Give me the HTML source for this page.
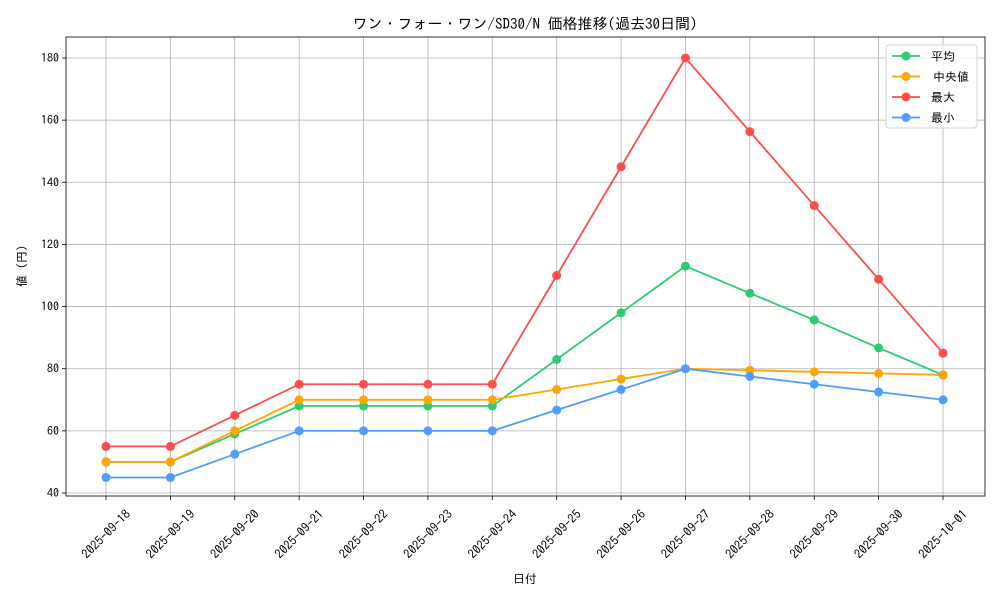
<!DOCTYPE html>
<html><head><meta charset="utf-8"><style>
body{margin:0;background:#fff;}
svg text{font-family:"IPAGothic","Liberation Sans","Noto Sans CJK JP",sans-serif;fill:#000;}
</style></head><body>
<svg id="c" width="1000" height="600" xmlns="http://www.w3.org/2000/svg"></svg>
<script>
const categories=["2025-09-18","2025-09-19","2025-09-20","2025-09-21","2025-09-22","2025-09-23","2025-09-24","2025-09-25","2025-09-26","2025-09-27","2025-09-28","2025-09-29","2025-09-30","2025-10-01"];
const avgValues=[50,50,59,68,68,68,68,83,98,113,104.3,95.7,86.7,78];
const medianValues=[50,50,60,70,70,70,70,73.3,76.7,80,79.5,79,78.5,78];
const maxValues=[55,55,65,75,75,75,75,110,145,180,156.3,132.5,108.8,85];
const minValues=[45,45,52.5,60,60,60,60,66.7,73.3,80,77.5,75,72.5,70];
const yTicks=[40,60,80,100,120,140,160,180];
const seriesNames=["平均","中央値","最大","最小"];
const seriesColors=["#2ecc71","#ffa500","#ff4d4d","#4d9eff"];

const svg=document.getElementById('c');
const NS="http://www.w3.org/2000/svg";
function mk(t,a,p){const e=document.createElementNS(NS,t);for(const k in a)e.setAttribute(k,a[k]);(p||svg).appendChild(e);return e;}
const L=66,R=985,T=37,B=496;
const x0=106,x1=943;
function xs(i){return x0+(x1-x0)*i/(categories.length-1);}
function ys(v){return 493-(v-40)*(493-58)/140;}

const grid=mk('g',{});


categories.forEach((c,i)=>{
  mk('line',{x1:xs(i),x2:xs(i),y1:T,y2:B,stroke:'#b0b0b0','stroke-width':0.8},grid);
  mk('line',{x1:xs(i),x2:xs(i),y1:B,y2:B+4,stroke:'#000','stroke-width':0.8});
  const t=mk('text',{x:0,y:0,'font-size':12.5,'text-anchor':'middle',dy:'0.35em',transform:`translate(${xs(i)},534) rotate(-45)`});
  t.textContent=c;
  
  
});
yTicks.forEach(v=>{
  mk('line',{x1:L,x2:R,y1:ys(v),y2:ys(v),stroke:'#b0b0b0','stroke-width':0.8},grid);
  mk('line',{x1:L-4,x2:L,y1:ys(v),y2:ys(v),stroke:'#000','stroke-width':0.8});
  const t=mk('text',{x:L-7,y:ys(v)+4,'font-size':12,'text-anchor':'end'});
  t.textContent=v;
  
  
});
const frame=mk('rect',{x:L,y:T,width:R-L,height:B-T,fill:'none',stroke:'#000','stroke-width':0.8});



const all=[avgValues,medianValues,maxValues,minValues];
all.forEach((vals,s)=>{
  const g=mk('g',{});
  
  
  mk('polyline',{points:vals.map((v,i)=>xs(i)+','+ys(v)).join(' '),fill:'none',stroke:seriesColors[s],'stroke-width':1.8},g);
  vals.forEach((v,i)=>{
    const c=mk('circle',{cx:xs(i),cy:ys(v),r:4.5,fill:seriesColors[s]},g);
    
    
  });
});

const title=mk('text',{x:525,y:29,'font-size':15,'text-anchor':'middle'});
title.textContent="ワン・フォー・ワン/SD30/N 価格推移(過去30日間)";


const xt=mk('text',{x:525,y:583,'font-size':12,'text-anchor':'middle'});
xt.textContent="日付";


const yt=mk('text',{x:0,y:0,'font-size':12,'text-anchor':'middle',transform:'translate(26,266) rotate(-90)'});
yt.textContent="値 (円)";



const lg=mk('g',{});


mk('rect',{x:886,y:45,width:91,height:83,rx:3,fill:'#fff','fill-opacity':0.8,stroke:'#d0d0d0'},lg);
seriesNames.forEach((n,s)=>{
  const y=56+s*20.5;
  mk('line',{x1:892,x2:920,y1:y,y2:y,stroke:seriesColors[s],'stroke-width':1.8},lg);
  mk('circle',{cx:906,cy:y,r:4.5,fill:seriesColors[s]},lg);
  const t=mk('text',{x:s==1?933:931,y:y+4.5,'font-size':12},lg);
  t.textContent=n;
  
  
});
</script>
</body></html>
